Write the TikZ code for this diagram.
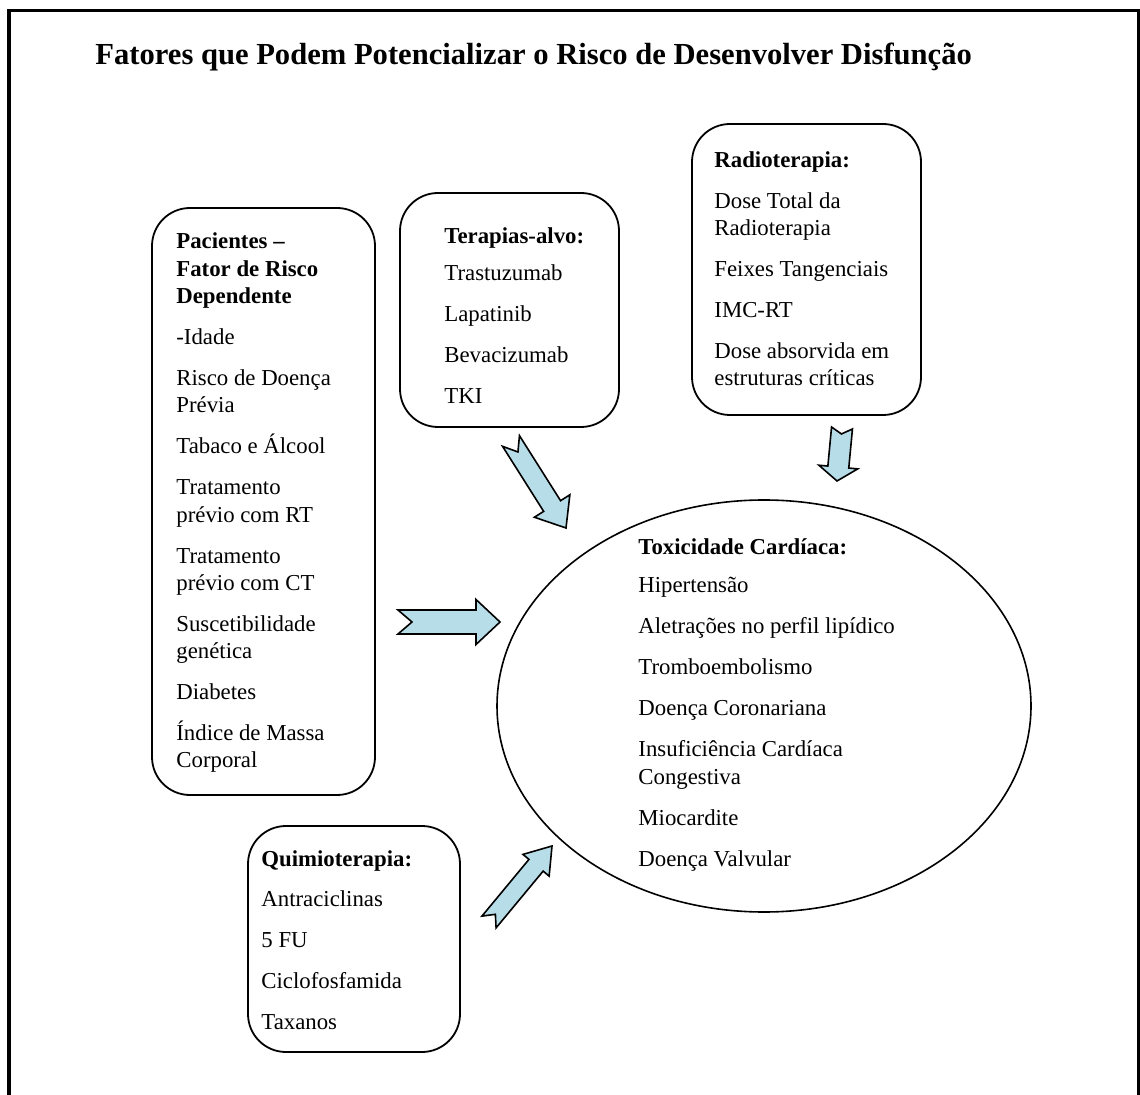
\documentclass[tikz,border=0pt]{standalone}
\usepackage{fontspec}
\setmainfont{Liberation Serif}
\usetikzlibrary{calc,shapes.geometric}

\definecolor{arrowblue}{RGB}{183,222,232}

\newcommand{\bodyfont}{\fontsize{11.4}{13.65}\selectfont}
\newcommand{\pgap}{\\[6.85pt]}

% notched block arrow: tail, tip, half shaft, half head, head length, notch
\newcommand{\blockarrow}[6]{%
  \path ($(#2)!#5!(#1)$) coordinate (hb);
  \draw [arrowbody] ($(#1)!#3!90:(#2)$) -- ($(#1)!#6!(#2)$) -- ($(#1)!#3!-90:(#2)$)
    -- ($(hb)!#3!-90:(#2)$) -- ($(hb)!#4!-90:(#2)$) -- (#2)
    -- ($(hb)!#4!90:(#2)$) -- ($(hb)!#3!90:(#2)$) -- cycle;}

\tikzset{
  riskbox/.style={draw, rounded corners=19pt, line width=0.9pt, inner sep=0pt},
  toxell/.style={draw, ellipse, line width=0.8pt, inner sep=0pt},
  boxtext/.style={align=left, anchor=base west, inner sep=0pt, font=\bodyfont},
  arrowbody/.style={fill=arrowblue, draw=black, line width=0.8pt, line join=miter}
}

\begin{document}
\begin{tikzpicture}[x=0.5pt, y=-0.5pt]

\useasboundingbox (0,0) rectangle (1140,1095);
\draw [line width=1.8pt] (9.2,1095) -- (9.2,10.5) -- (1139,10.5) -- (1139,1095);

\node [anchor=base west, inner sep=0pt, font=\fontsize{15.3}{18}\selectfont\bfseries] (title) at (95,65)
  {Fatores que Podem Potencializar o Risco de Desenvolver Disfunção};

% boxes
\node [riskbox, minimum width=111.5pt, minimum height=293.5pt] (pac) at (263.5,501.5) {};
\node [riskbox, minimum width=109.5pt, minimum height=117pt] (alvo) at (509.5,310) {};
\node [riskbox, minimum width=114.5pt, minimum height=145.5pt] (radio) at (806.5,269.5) {};
\node [riskbox, minimum width=106pt, minimum height=113pt] (quimio) at (354,939) {};
\node [toxell, minimum width=267pt, minimum height=206pt] (tox) at (764,706) {};

% texts, placed by their last line
\node [boxtext] (pactext) at (176,768) {\textbf{Pacientes –}\\\textbf{Fator de Risco}\\\textbf{Dependente}\pgap
  -Idade\pgap Risco de Doença\\Prévia\pgap Tabaco e Álcool\pgap Tratamento\\prévio com RT\pgap
  Tratamento\\prévio com CT\pgap Suscetibilidade\\genética\pgap Diabetes\pgap Índice de Massa\\Corporal};
\node [boxtext] (alvotext) at (444,404) {\textbf{Terapias-alvo:}\\[4.85pt] Trastuzumab\pgap Lapatinib\pgap
  Bevacizumab\pgap TKI};
\node [boxtext] (radiotext) at (714,386) {\textbf{Radioterapia:}\pgap Dose Total da\\Radioterapia\pgap
  Feixes Tangenciais\pgap IMC-RT\pgap Dose absorvida em\\estruturas críticas};
\node [boxtext] (quimiotext) at (261,1029) {\textbf{Quimioterapia:}\\[6.35pt] Antraciclinas\pgap 5 FU\pgap
  Ciclofosfamida\pgap Taxanos};
\node [boxtext] (toxtext) at (638,866) {\textbf{Toxicidade Cardíaca:}\\[5.35pt] Hipertensão\pgap
  Aletrações no perfil lipídico\pgap Tromboembolismo\pgap Doença Coronariana\pgap
  Insuficiência Cardíaca\\Congestiva\pgap Miocardite\pgap Doença Valvular};

% arrows
\coordinate (alvoA) at (511,441);
\coordinate (alvoB) at (566,528);
\coordinate (pacA) at (398,622);
\coordinate (pacB) at (500,622);
\coordinate (quimioA) at (489,922);
\coordinate (quimioB) at (552,846);
\coordinate (radioA) at (842,428);
\coordinate (radioB) at (837,481);

\blockarrow{alvoA}{alvoB}{5pt}{10.5pt}{13pt}{6.5pt}
\blockarrow{pacA}{pacB}{6pt}{11.25pt}{12pt}{7pt}
\blockarrow{quimioA}{quimioB}{4.6pt}{8.5pt}{12.5pt}{5pt}
\blockarrow{radioA}{radioB}{5.25pt}{9.75pt}{7pt}{3pt}

\end{tikzpicture}
\end{document}
